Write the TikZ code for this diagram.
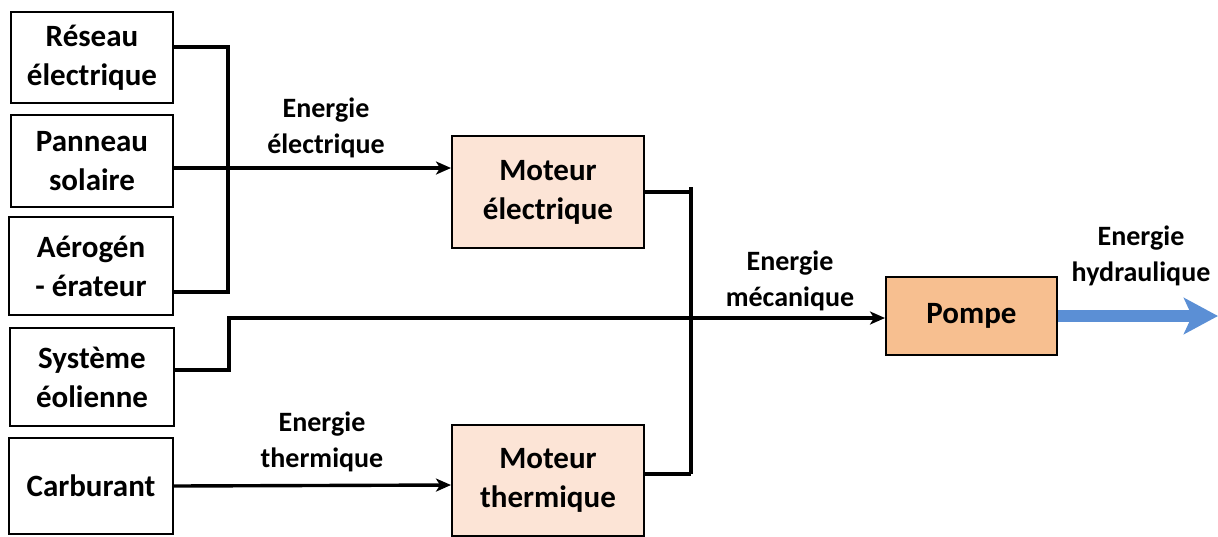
\documentclass[tikz,border=0pt]{standalone}
\usepackage{fontspec}
\setmainfont{Carlito}
\usetikzlibrary{arrows.meta}
\definecolor{peau}{RGB}{252,228,214}
\definecolor{orangepompe}{RGB}{247,191,144}
\definecolor{bleuhydro}{RGB}{91,143,213}
\tikzset{
  source/.style={draw, line width=1pt, align=center, font=\fontsize{15.5}{19.5}\selectfont\bfseries, minimum width=81pt},
  machine/.style={source, minimum width=96pt, minimum height=56pt},
  lien/.style={line width=1.9pt},
  fleche/.style={line width=1.7pt, -{Stealth[length=7.5pt,width=6.5pt,inset=2pt]}},
  etiquette/.style={align=center, font=\fontsize{14}{18}\selectfont\bfseries}
}
\begin{document}
\begin{tikzpicture}[x=0.5pt,y=-0.5pt]
    \useasboundingbox (0,0) rectangle (1218,536);
    \node[source, minimum height=45.5pt] (reseau) at (92,57.5) {Réseau\\électrique};
    \node[source, minimum height=46pt] (panneau) at (92,161) {Panneau\\solaire};
    \node[source, minimum width=82pt, minimum height=49pt] (aero) at (91,266) {Aérogén\\- érateur};
    \node[source, minimum width=82pt, minimum height=49pt] (systeme) at (92,377) {Système\\éolienne};
    \node[source, minimum width=82pt, minimum height=48pt] (carburant) at (91,486) {Carburant};
    \node[machine, fill=peau] (motelec) at (548,192) {Moteur\\électrique};
    \node[machine, fill=peau, minimum height=55.5pt] (mottherm) at (548,480.5) {Moteur\\thermique};
    \node[source, fill=orangepompe, minimum width=85.5pt, minimum height=39pt] (pompe) at (971.5,316) {Pompe};
    \node[etiquette] (lblelec) at (326,128) {Energie\\électrique};
    \node[etiquette] (lblmeca) at (790,281) {Energie\\mécanique};
    \node[etiquette] (lbltherm) at (322,442) {Energie\\thermique};
    \node[etiquette] (lblhydro) at (1141,256) {Energie\\hydraulique};
    \coordinate (busL) at (228,292);
    \coordinate (busRhaut) at (691,187);
    \coordinate (busRbas) at (691,474);
    \coordinate (sortie) at (1218,316);
    \draw[lien] ([yshift=5.25pt]reseau.east) -| (busL) -- ([yshift=-13pt]aero.east);
    \draw[fleche] ([yshift=-3.5pt]panneau.east) -- ([yshift=12pt]motelec.west);
    \draw[fleche] ([yshift=3.5pt]systeme.east) -- ++(27pt,0) |- ([yshift=-1pt]pompe.west);
    \draw[fleche] (carburant.east) -- ([yshift=-2.25pt]mottherm.west);
    \draw[lien] (busRhaut) -- (busRbas);
    \draw[lien] (motelec.east) -- (motelec.east -| busRhaut);
    \draw[lien] ([yshift=3.25pt]mottherm.east) -- (busRbas);
    \draw[line width=6pt, bleuhydro, -{Stealth[length=17pt,width=18pt,inset=4pt]}] (pompe.east) -- (sortie);
\end{tikzpicture}
\end{document}
